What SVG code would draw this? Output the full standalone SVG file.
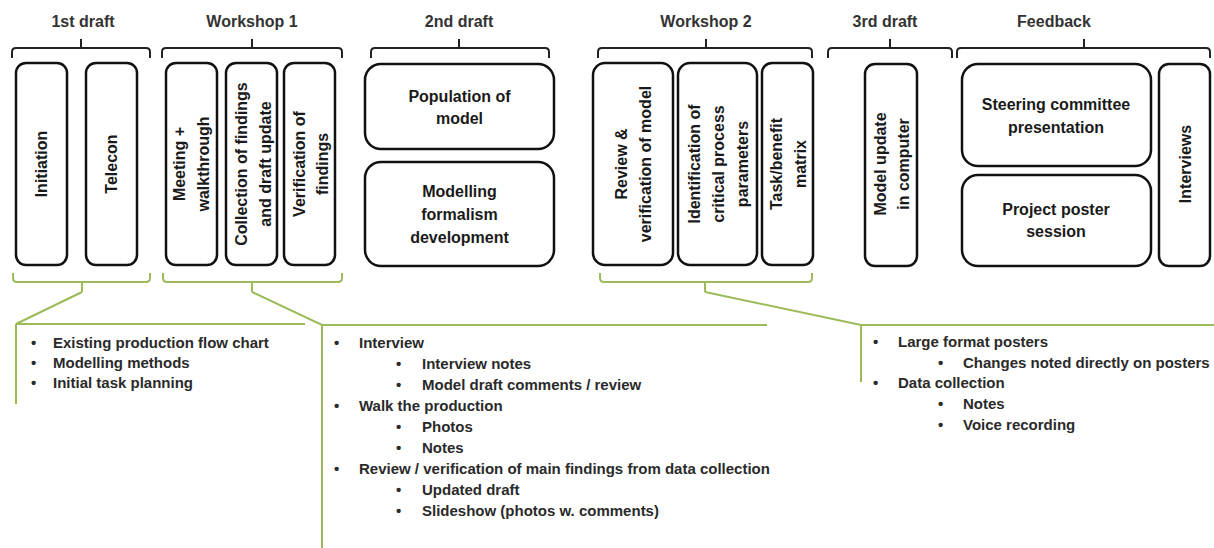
<svg xmlns="http://www.w3.org/2000/svg" width="1214" height="548" viewBox="0 0 1214 548">
<style>
.box{fill:#fff;stroke:#111;stroke-width:2.5}
.brace{fill:none;stroke:#222;stroke-width:2}
.gbrace{fill:none;stroke:#9bbb59;stroke-width:2}
.hdr{font-family:"Liberation Sans",Arial,sans-serif;font-size:16px;font-weight:bold;fill:#333;text-anchor:middle}
.lbl{font-family:"Liberation Sans",Arial,sans-serif;font-size:16px;font-weight:bold;fill:#1a1a1a;text-anchor:middle}
.li{font-family:"Liberation Sans",Arial,sans-serif;font-size:15px;font-weight:bold;fill:#2a2a2a}
</style>
<rect width="1214" height="548" fill="#fff"/>

<!-- phase headers and black braces -->
<g id="phases">
  <text class="hdr" x="83" y="27">1st draft</text>
  <text class="hdr" x="252" y="27">Workshop 1</text>
  <text class="hdr" x="459" y="27">2nd draft</text>
  <text class="hdr" x="706" y="27">Workshop 2</text>
  <text class="hdr" x="885" y="27">3rd draft</text>
  <text class="hdr" x="1054" y="27">Feedback</text>
  <path class="brace" d="M12 58V52Q12 48 16 48H146Q150 48 150 52V58M81 48V39"/>
  <path class="brace" d="M162 58V52Q162 48 166 48H338Q342 48 342 52V58M252 48V39"/>
  <path class="brace" d="M371 58V52Q371 48 375 48H545Q549 48 549 52V58M459 48V39"/>
  <path class="brace" d="M598 58V52Q598 48 602 48H808Q812 48 812 52V58M706 48V39"/>
  <path class="brace" d="M828 58V52Q828 48 832 48H948Q952 48 952 52V58M890 48V39"/>
  <path class="brace" d="M957 58V52Q957 48 961 48H1206Q1210 48 1210 52V58M1084 48V39"/>
</g>

<!-- nodes -->
<g id="initiation">
  <rect class="box" x="16" y="63" width="51" height="202" rx="10"/>
  <text class="lbl" transform="translate(41,164) rotate(-90)" y="6">Initiation</text>
</g>
<g id="telecon">
  <rect class="box" x="86" y="63" width="51" height="202" rx="10"/>
  <text class="lbl" transform="translate(111,164) rotate(-90)" y="6">Telecon</text>
</g>
<g id="meeting">
  <rect class="box" x="166" y="63" width="51" height="202" rx="10"/>
  <text class="lbl" transform="translate(191.5,164) rotate(-90)"><tspan x="0" y="-6.5">Meeting +</tspan><tspan x="0" y="17.5">walkthrough</tspan></text>
</g>
<g id="collection">
  <rect class="box" x="226" y="63" width="51" height="202" rx="10"/>
  <text class="lbl" transform="translate(251.5,164) rotate(-90)"><tspan x="0" y="-5">Collection of findings</tspan><tspan x="0" y="19">and draft update</tspan></text>
</g>
<g id="verification">
  <rect class="box" x="284" y="63" width="51" height="202" rx="10"/>
  <text class="lbl" transform="translate(309.5,164) rotate(-90)"><tspan x="0" y="-5">Verification of</tspan><tspan x="0" y="18">findings</tspan></text>
</g>
<g id="population">
  <rect class="box" x="365" y="64" width="189" height="85" rx="16"/>
  <text class="lbl" x="459.5" y="102">Population of</text>
  <text class="lbl" x="459.5" y="124">model</text>
</g>
<g id="formalism">
  <rect class="box" x="365" y="162" width="189" height="104" rx="16"/>
  <text class="lbl" x="459.5" y="197">Modelling</text>
  <text class="lbl" x="459.5" y="220">formalism</text>
  <text class="lbl" x="459.5" y="243">development</text>
</g>
<g id="review">
  <rect class="box" x="593" y="63" width="80" height="202" rx="12"/>
  <text class="lbl" transform="translate(633,164) rotate(-90)"><tspan x="0" y="-6">Review &amp;</tspan><tspan x="0" y="18">verification of model</tspan></text>
</g>
<g id="identification">
  <rect class="box" x="678" y="63" width="79" height="202" rx="12"/>
  <text class="lbl" transform="translate(717.5,164) rotate(-90)"><tspan x="0" y="-18">Identification of</tspan><tspan x="0" y="6">critical process</tspan><tspan x="0" y="30">parameters</tspan></text>
</g>
<g id="taskbenefit">
  <rect class="box" x="762" y="63" width="51" height="202" rx="10"/>
  <text class="lbl" transform="translate(787.5,164) rotate(-90)"><tspan x="0" y="-6">Task/benefit</tspan><tspan x="0" y="18">matrix</tspan></text>
</g>
<g id="modelupdate">
  <rect class="box" x="865" y="64" width="52" height="202" rx="10"/>
  <text class="lbl" transform="translate(891,164) rotate(-90)"><tspan x="0" y="-5">Model update</tspan><tspan x="0" y="18">in computer</tspan></text>
</g>
<g id="steering">
  <rect class="box" x="962" y="64" width="189" height="102" rx="16"/>
  <text class="lbl" x="1056" y="110">Steering committee</text>
  <text class="lbl" x="1056" y="133">presentation</text>
</g>
<g id="poster">
  <rect class="box" x="962" y="175" width="189" height="91" rx="16"/>
  <text class="lbl" x="1056" y="215">Project poster</text>
  <text class="lbl" x="1056" y="237">session</text>
</g>
<g id="interviews">
  <rect class="box" x="1159" y="64" width="51" height="202" rx="10"/>
  <text class="lbl" transform="translate(1185,164) rotate(-90)" y="6">Interviews</text>
</g>

<!-- connectors: green braces and callout lines -->
<g id="connectors">
  <path class="gbrace" d="M13 273V278Q13 282 17 282H146Q150 282 150 278V273M82 282V292"/>
  <path class="gbrace" d="M163 273V278Q163 282 167 282H338Q342 282 342 278V273M252 282V292"/>
  <path class="gbrace" d="M600 273V278Q600 282 604 282H808Q812 282 812 278V273M705 282V292"/>
  <path class="gbrace" d="M82 292L16 324H305M16 324V404"/>
  <path class="gbrace" d="M252 292L322 325H767M322 325V548"/>
  <path class="gbrace" d="M705 292L861 325H1214M861 325V382"/>
</g>

<!-- bullet lists -->
<g id="notes-1st-draft" class="li">
  <text x="31" y="348">•</text><text x="53" y="348">Existing production flow chart</text>
  <text x="31" y="368">•</text><text x="53" y="368">Modelling methods</text>
  <text x="31" y="388">•</text><text x="53" y="388">Initial task planning</text>
</g>
<g id="notes-workshop-1" class="li">
  <text x="334" y="348">•</text><text x="359" y="348">Interview</text>
  <text x="396" y="369">•</text><text x="422" y="369">Interview notes</text>
  <text x="396" y="390">•</text><text x="422" y="390">Model draft comments / review</text>
  <text x="334" y="411">•</text><text x="359" y="411">Walk the production</text>
  <text x="396" y="432">•</text><text x="422" y="432">Photos</text>
  <text x="396" y="453">•</text><text x="422" y="453">Notes</text>
  <text x="334" y="474">•</text><text x="359" y="474">Review / verification of main findings from data collection</text>
  <text x="396" y="495">•</text><text x="422" y="495">Updated draft</text>
  <text x="396" y="516">•</text><text x="422" y="516">Slideshow (photos w. comments)</text>
</g>
<g id="notes-workshop-2" class="li">
  <text x="873" y="347">•</text><text x="898" y="347">Large format posters</text>
  <text x="938" y="368">•</text><text x="963" y="368">Changes noted directly on posters</text>
  <text x="873" y="388">•</text><text x="898" y="388">Data collection</text>
  <text x="938" y="409">•</text><text x="963" y="409">Notes</text>
  <text x="938" y="430">•</text><text x="963" y="430">Voice recording</text>
</g>
</svg>
